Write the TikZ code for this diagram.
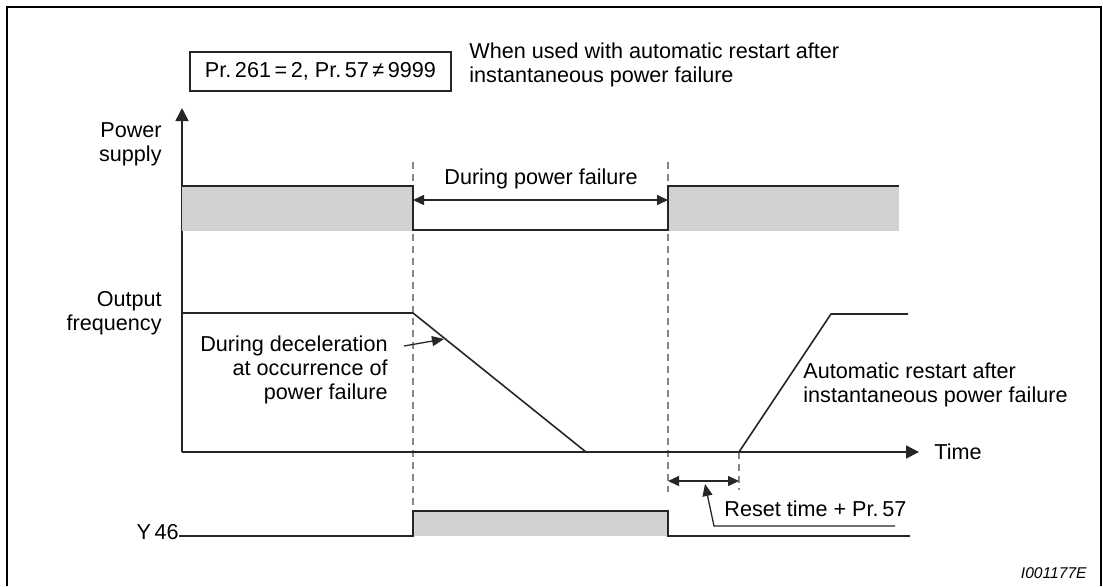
\documentclass[tikz,border=0pt]{standalone}
\usepackage{fontspec}
\setmainfont{Liberation Sans}
\usetikzlibrary{arrows.meta}
\definecolor{ink}{RGB}{38,38,38}
\definecolor{dashgrey}{RGB}{135,135,135}
\definecolor{fillgrey}{RGB}{209,210,212}
\tikzset{
  frame/.style  = {draw=black, line width=1.2pt},
  sig/.style    = {draw=ink, line width=0.8pt},
  lvl/.style    = {fill=fillgrey, draw=none},
  guide/.style  = {draw=dashgrey, line width=0.55pt, dash pattern=on 3.5pt off 2.5pt},
  axis/.style   = {-{Triangle[length=6.5pt,width=6.5pt]}, draw=ink, line width=0.8pt},
  dim/.style    = {{Triangle[length=5.5pt,width=5pt]}-{Triangle[length=5.5pt,width=5pt]}, draw=ink, line width=0.65pt},
  lead/.style   = {-{Triangle[length=6pt,width=5pt]}, draw=ink, line width=0.65pt},
  lbl/.style    = {font=\fontsize{10.8}{12}\selectfont, text=black, inner sep=0pt},
  lblr/.style   = {lbl, align=right, anchor=east},
  lbll/.style   = {lbl, align=left, anchor=west},
  prbox/.style  = {lbl, draw=ink, line width=0.75pt, minimum width=130.5pt, minimum height=19.5pt},
  tag/.style    = {font=\fontsize{7.8}{9}\selectfont\itshape, inner sep=0pt, anchor=base east},
}

\begin{document}
\begin{tikzpicture}[x=0.5pt, y=-0.5pt]
\useasboundingbox (0,0) rectangle (1103,586);

% ======================================================= frame and heading
\draw[frame] (7,586) -- (7,7) -- (1101,7) -- (1101,586);
\node[prbox] (cond) at (320.5,71.5) {Pr.\,261\,=\,2, Pr.\,57\,≠\,9999};
\node[lbll] (when) at (469,64.5) {When used with automatic restart after\\instantaneous power failure};

% ======================================================= time instants
% t1 = power failure, t2 = power restored, t3 = restart
\coordinate (t1top) at (413,162);  \coordinate (t1bot) at (413,511);
\coordinate (t2top) at (668,162);  \coordinate (t2bot) at (668,492);
\coordinate (t3top) at (739,452);  \coordinate (t3bot) at (739,490);
\draw[guide] (t1top) -- (t1bot);
\draw[guide] (t2top) -- (t2bot);
\draw[guide] (t3top) -- (t3bot);

% ======================================================= axes
\coordinate (origin) at (182,452);
\draw[axis] (origin) -- (182,108);
\draw[axis] (origin) -- (919,452) coordinate (tend);
\node[lbl, anchor=base west] (timelbl) at (934,459.5) {Time};

% ======================================================= power supply
\node[lblr] (psup) at (162,144) {Power\\supply};
\fill[lvl] (182,186) rectangle (413,231);
\fill[lvl] (668,186) rectangle (899,231);
\draw[sig] (182,186) -- (413,186) -- (413,230) -- (668,230) -- (668,186) -- (899,186);
\coordinate (pfL) at (413,200);  \coordinate (pfR) at (668,200);
\draw[dim] (pfL) -- (pfR);
\node[lbl, anchor=base west] (pfail) at (444,184.5) {During power failure};

% ======================================================= output frequency
\node[lblr] (ofreq) at (162,313.5) {Output\\frequency};
\draw[sig] (182,313) -- (413,313) -- (586,452);
\draw[sig] (739,452) -- (831,314) -- (908,314);
\node[lblr] (decel) at (388,370) {During deceleration\\at occurrence of\\power failure};
\coordinate (decelfrom) at (404,346);  \coordinate (decelto) at (444,339);
\draw[lead] (decelfrom) -- (decelto);
\node[lbll] (restart) at (803,385) {Automatic restart after\\instantaneous power failure};

% ======================================================= reset time
\coordinate (rsL) at (668,481);  \coordinate (rsR) at (739,481);
\draw[dim] (rsL) -- (rsR);
\node[lbl, anchor=base west] (reset) at (724,516.5) {Reset time + Pr.\,57};
\coordinate (rsfoot) at (895,526);  \coordinate (rsknee) at (714,526);
\draw[lead] (rsfoot) -- (rsknee) -- (705,484);

% ======================================================= Y46 signal
\node[lbl, anchor=east] (y46) at (179,532) {Y\,46};
\fill[lvl] (413,511) rectangle (668,536);
\draw[sig] (179,536) -- (413,536) -- (413,511) -- (668,511) -- (668,536) -- (910,536);

\node[tag] (code) at (1087,578.5) {I001177E};

\end{tikzpicture}
\end{document}
